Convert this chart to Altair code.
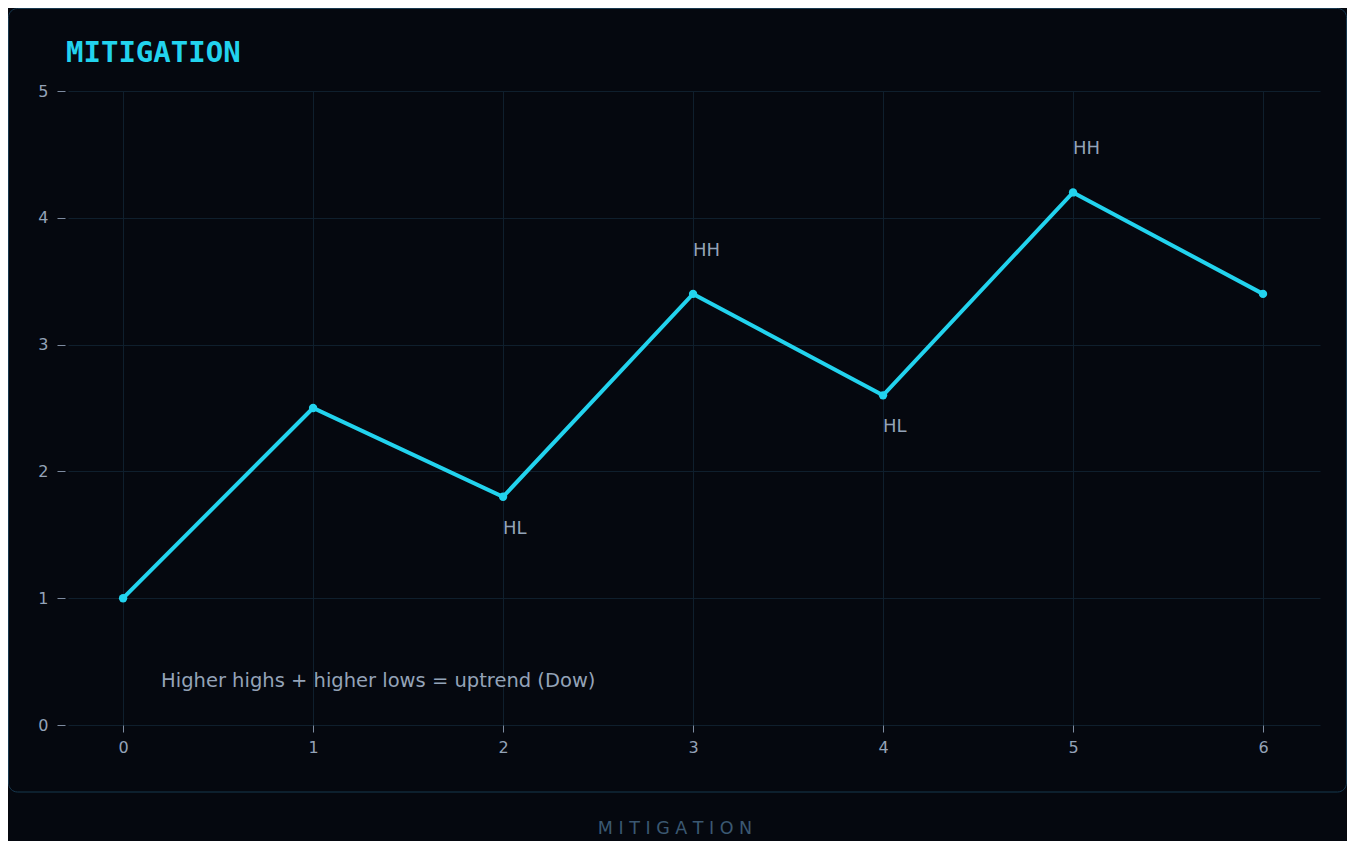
import altair as alt
import pandas as pd

# ---- data ----
xs = [0, 1, 2, 3, 4, 5, 6]
ys = [1.0, 2.5, 1.8, 3.4, 2.6, 4.2, 3.4]
tags = ["", "", "HL", "HH", "HL", "HH", ""]
y_ticks = [0, 1, 2, 3, 4, 5]
title_text = ["MITIGATION"]
footer_text = ["M I T I G A T I O N"]
note_text = ["Higher highs + higher lows = uptrend (Dow)"]
note_x = [0.2]
note_y = [0.3]

df = pd.DataFrame({"x": xs, "y": ys, "tag": tags})
note_df = pd.DataFrame({"x": note_x, "y": note_y, "t": note_text})
title_df = pd.DataFrame({"t": title_text})
footer_df = pd.DataFrame({"t": footer_text})
one = pd.DataFrame({"k": [0]})

CYAN = "#22d3ee"
LABEL = "#94a3b8"
GRID = "#0f1f2d"
BG = "#05080f"

xscale = alt.Scale(domain=[-0.29, 6.3], nice=False, zero=False)
yscale = alt.Scale(domain=[0, 5], nice=False)

X = alt.X("x:Q", scale=xscale,
          axis=alt.Axis(values=xs, title=None, tickSize=7, labelPadding=7,
                        format="d", labelFontSize=16))
Y = alt.Y("y:Q", scale=yscale,
          axis=alt.Axis(values=y_ticks, title=None, tickSize=8, offset=3,
                        labelPadding=9, format="d", labelFontSize=16))

panel = alt.Chart(one).mark_rect(
    fillOpacity=0, stroke="#17384f", strokeWidth=1, cornerRadius=9
).encode(
    x=alt.value(-59.5), x2=alt.value(1278.5),
    y=alt.value(-82.5), y2=alt.value(701),
)

line = alt.Chart(df).mark_line(color=CYAN, strokeWidth=4).encode(x=X, y=Y)
pts = alt.Chart(df).mark_circle(color=CYAN, size=70, opacity=1).encode(x=X, y=Y)

hh = alt.Chart(df).transform_filter(alt.datum.tag == "HH").mark_text(
    align="left", baseline="alphabetic", dy=-38, fontSize=18, color=LABEL
).encode(x="x:Q", y="y:Q", text="tag:N")

hl = alt.Chart(df).transform_filter(alt.datum.tag == "HL").mark_text(
    align="left", baseline="alphabetic", dy=37, fontSize=18, color=LABEL
).encode(x="x:Q", y="y:Q", text="tag:N")

note = alt.Chart(note_df).mark_text(
    align="left", baseline="alphabetic", fontSize=19.5, color=LABEL
).encode(x="x:Q", y="y:Q", text="t:N")

title = alt.Chart(title_df).mark_text(
    align="left", baseline="alphabetic", font="DejaVu Sans Mono",
    fontWeight="bold", fontSize=29, color=CYAN
).encode(x=alt.value(-2), y=alt.value(-29), text="t:N")

footer = alt.Chart(footer_df).mark_text(
    align="center", baseline="alphabetic", fontSize=17.5, color="#3b5872"
).encode(x=alt.value(607), y=alt.value(743), text="t:N")

chart = alt.layer(panel, line, pts, hh, hl, note, title, footer).properties(
    width=1252, height=634,
    autosize=alt.AutoSizeParams(type="none"),
    padding={"left": 60, "top": 83, "right": 27, "bottom": 116},
).configure(
    background=BG, font="DejaVu Sans"
).configure_view(
    stroke=None
).configure_axis(
    grid=True, gridColor=GRID, gridWidth=1, domain=False,
    tickColor="#7d8ba0", tickWidth=1, labelColor=LABEL, labelFontSize=16,
    labelFont="DejaVu Sans"
)

chart.save("out.html", embed_options={"renderer": "svg", "actions": False})
